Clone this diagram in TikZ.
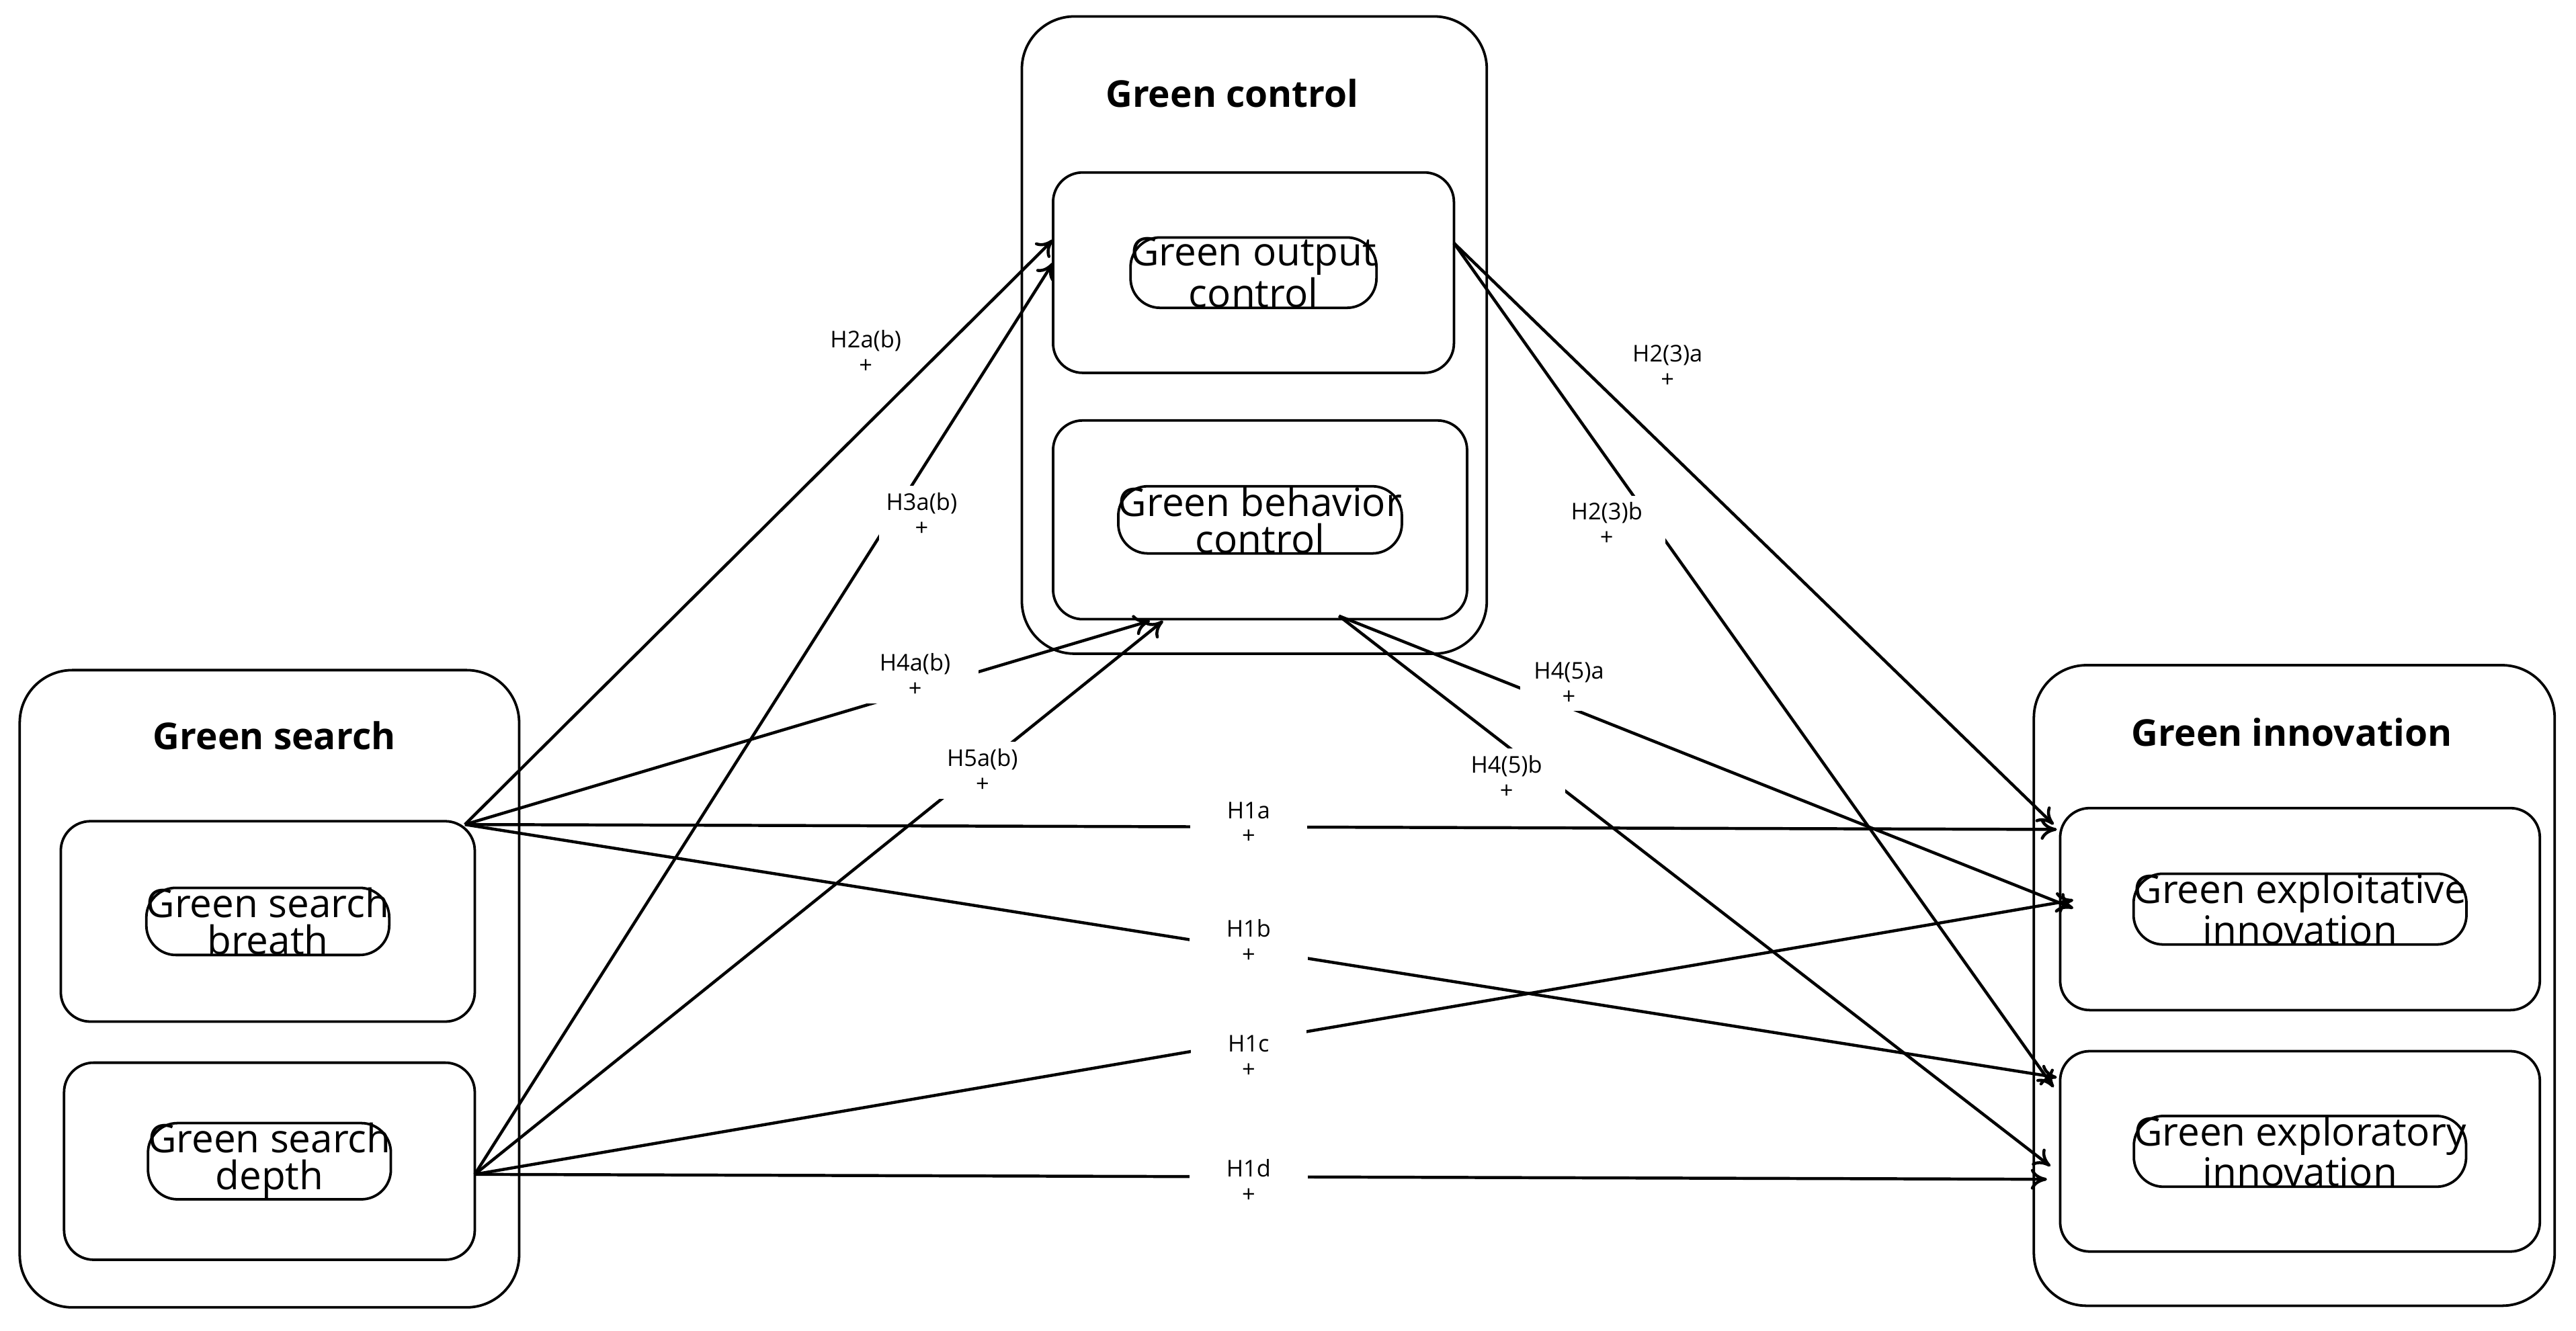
\documentclass[tikz,border=0pt]{standalone}
\usepackage{fontspec}
\setmainfont{Open Sans}
\usetikzlibrary{fit,arrows.meta}
\begin{document}
\begin{tikzpicture}[x=0.025cm,y=-0.025cm,
  outer/.style={draw,line width=1.1pt,rounded corners=0.8cm,inner sep=0pt},
  inner/.style={draw,line width=1.1pt,rounded corners=0.45cm,inner sep=0pt,align=center,font=\fontsize{17}{16}\selectfont},
  ttl/.style={font=\bfseries\fontsize{16}{18}\selectfont},
  lab/.style={fill=white,align=center,inner sep=3pt,font=\fontsize{10}{11}\selectfont},
  nolab/.style={align=center,inner sep=1pt,font=\fontsize{10}{11}\selectfont},
  arr/.style={line width=1.3pt,-{To[length=7pt,width=9pt]}}]
\useasboundingbox (0,0) rectangle (1568,810);
% boxes
\node[outer,fit={(622,10)(905,398)}] (gc) {};
\node[outer,fit={(12,408)(316,796)}] (gs) {};
\node[outer,fit={(1238,405)(1555,795)}] (gi) {};
\node[ttl] (gct) at (750,57) {Green control};
\node[ttl] (gst) at (167,448) {Green search};
\node[ttl] (git) at (1395,446) {Green innovation};
\node[inner,fit={(641,105)(885,227)}] (oc) {};
\node[inner] at (oc.center) {Green output\\control};
\node[inner,fit={(641,256)(893,377)}] (bc) {};
\node[inner] at (bc.center) {Green behavior\\control};
\node[inner,fit={(37,500)(289,622)}] (br) {};
\node[inner] at (br.center) {Green search\\breath};
\node[inner,fit={(39,647)(289,767)}] (dp) {};
\node[inner] at (dp.center) {Green search\\depth};
\node[inner,fit={(1254,492)(1546,615)}] (ei) {};
\node[inner] at (ei.center) {Green exploitative\\innovation};
\node[inner,fit={(1254,640)(1546,762)}] (xi) {};
\node[inner] at (xi.center) {Green exploratory\\innovation};
% anchor points
\coordinate (b1) at (283,502);
\coordinate (d1) at (289,715);
\coordinate (o1) at (641,146);
\coordinate (o2) at (641,160);
\coordinate (o3) at (885,148);
\coordinate (c1) at (700,378);
\coordinate (c2) at (708,378);
\coordinate (c3) at (815,375);
% arrows
\draw[arr] (b1) -- (o1);
\draw[arr] (d1) -- (o2);
\draw[arr] (b1) -- (c1);
\draw[arr] (d1) -- (c2);
\draw[arr] (b1) -- (1252,505);
\draw[arr] (b1) -- (1252,656);
\draw[arr] (d1) -- (1262,548);
\draw[arr] (d1) -- (1246,718);
\draw[arr] (o3) -- (1250,502);
\draw[arr] (o3) -- (1250,662);
\draw[arr] (c3) -- (1262,553);
\draw[arr] (c3) -- (1248,710);
% labels
\node[nolab] (l1) at (527,214) {H2a(b)\\+};
\node[lab] (l2) at (561,313) {H3a(b)\\+};
\node[lab,inner xsep=12pt] (l3) at (557,411) {H4a(b)\\+};
\node[lab,inner xsep=14pt] (l4) at (598,469) {H5a(b)\\+};
\node[lab,inner xsep=16pt] (l5) at (760,501) {H1a\\+};
\node[lab,inner xsep=16pt] (l6) at (760,573) {H1b\\+};
\node[lab,inner xsep=16pt] (l7) at (760,643) {H1c\\+};
\node[lab,inner xsep=16pt] (l8) at (760,719) {H1d\\+};
\node[nolab] (l9) at (1015,223) {H2(3)a\\+};
\node[lab,inner xsep=10pt] (l10) at (978,319) {H2(3)b\\+};
\node[lab,inner xsep=6pt] (l11) at (955,416) {H4(5)a\\+};
\node[lab,inner xsep=10pt] (l12) at (917,473) {H4(5)b\\+};
\end{tikzpicture}
\end{document}
